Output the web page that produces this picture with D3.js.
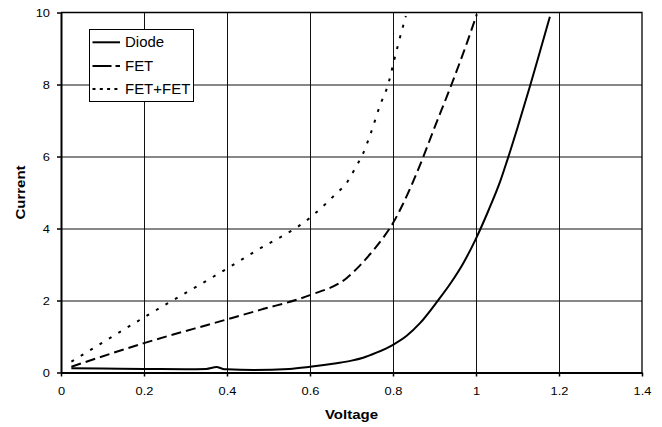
<!DOCTYPE html>
<meta charset="utf-8">
<script src="https://d3js.org/d3.v7.min.js"></script>
<style>
  body { margin: 0; background: #fff; }
  text { font-family: "Liberation Sans", Arial, sans-serif; fill: #000; }
</style>
<div id="chart"></div>
<script>
  // values
  const xTicks = [0, 0.2, 0.4, 0.6, 0.8, 1, 1.2, 1.4];
  const yTicks = [0, 2, 4, 6, 8, 10];

  const diodeV = [0.025, 0.1, 0.2, 0.3, 0.35, 0.375, 0.39, 0.4, 0.464, 0.55, 0.6, 0.664, 0.7, 0.728, 0.76, 0.8, 0.833, 0.865, 0.909, 0.94, 0.969, 1.0, 1.03, 1.058, 1.074, 1.1, 1.13, 1.155, 1.178];
  const diodeI = [0.12, 0.11, 0.1, 0.09, 0.1, 0.15, 0.1, 0.09, 0.07, 0.1, 0.16, 0.26, 0.33, 0.41, 0.55, 0.77, 1.02, 1.37, 2.01, 2.5, 3.03, 3.72, 4.5, 5.3, 5.85, 6.8, 7.95, 8.95, 9.88];

  const fetV = [0.025, 0.198, 0.383, 0.48, 0.6, 0.688, 0.72, 0.753, 0.78, 0.8, 0.821, 0.865, 0.9, 0.941, 0.978, 1.002];
  const fetI = [0.16, 0.81, 1.42, 1.74, 2.15, 2.62, 2.97, 3.4, 3.8, 4.15, 4.61, 5.76, 6.8, 8.0, 9.15, 9.95];

  const fet2V = [0.025, 0.21, 0.399, 0.467, 0.6, 0.664, 0.688, 0.711, 0.725, 0.745, 0.769, 0.789, 0.801, 0.813, 0.831];
  const fet2I = [0.30, 1.60, 2.88, 3.36, 4.30, 4.98, 5.26, 5.72, 6.01, 6.6, 7.43, 8.03, 8.59, 9.14, 9.9];

  const seriesNames = ["Diode", "FET", "FET+FET"];

  const width = 662, height = 427;
  const plotLeft = 61, plotTop = 12.5, plotRight = 642, plotBottom = 372.5;

  const svg = d3.select("#chart").append("svg")
    .attr("width", width)
    .attr("height", height);

  const x = d3.scaleLinear().domain([0, 1.4]).range([plotLeft, plotRight]);
  const y = d3.scaleLinear().domain([0, 10]).range([plotBottom, plotTop]);

  // gridlines
  svg.append("g")
    .attr("transform", `translate(0,${plotBottom})`)
    .call(d3.axisBottom(x).tickValues(xTicks.slice(1, -1)).tickSize(-(plotBottom - plotTop)).tickFormat(""))
    .call(g => g.select(".domain").remove())
    .selectAll("line").attr("stroke", "#111").attr("stroke-width", 1);

  svg.append("g")
    .attr("transform", `translate(${plotLeft},0)`)
    .call(d3.axisLeft(y).tickValues(yTicks.slice(1, -1)).tickSize(-(plotRight - plotLeft)).tickFormat(""))
    .call(g => g.select(".domain").remove())
    .selectAll("line").attr("stroke", "#111").attr("stroke-width", 1);

  // plot frame (top and right)
  svg.append("path")
    .attr("d", `M${plotLeft},${plotTop}H${plotRight}V${plotBottom}`)
    .attr("fill", "none")
    .attr("stroke", "#000")
    .attr("stroke-width", 1.3);

  // axes
  const xAxis = svg.append("g")
    .attr("transform", `translate(0,${plotBottom})`)
    .call(d3.axisBottom(x).tickValues(xTicks).tickSize(4).tickSizeOuter(0).tickFormat(d3.format("")));
  xAxis.select(".domain").attr("stroke-width", 2);
  xAxis.selectAll("line").attr("stroke-width", 1.5);
  xAxis.selectAll("text")
    .attr("y", 0).attr("dy", 0)
    .attr("font-size", 10.7)
    .attr("transform", "translate(0,22.5) scale(1.2,1)");

  const yAxis = svg.append("g")
    .attr("transform", `translate(${plotLeft},0)`)
    .call(d3.axisLeft(y).tickValues(yTicks).tickSize(4).tickSizeOuter(0));
  yAxis.select(".domain").attr("stroke-width", 2);
  yAxis.selectAll("line").attr("stroke-width", 1.5);
  yAxis.selectAll("text")
    .attr("x", 0).attr("dy", "0.36em")
    .attr("font-size", 10.7)
    .attr("transform", "translate(-11,0) scale(1.2,1)");
  svg.selectAll(".tick text").attr("fill", "#000");

  // axis titles
  svg.append("text")
    .attr("transform", `translate(${(plotLeft + plotRight) / 2},419) scale(1.2,1)`)
    .attr("text-anchor", "middle")
    .attr("font-weight", "bold")
    .attr("font-size", 12.5)
    .text("Voltage");

  svg.append("text")
    .attr("transform", `translate(25,${(plotTop + plotBottom) / 2}) rotate(-90) scale(1.2,1)`)
    .attr("text-anchor", "middle")
    .attr("font-weight", "bold")
    .attr("font-size", 12.5)
    .text("Current");

  // curves
  const line = d3.line().curve(d3.curveMonotoneX).x(d => x(d[0])).y(d => y(d[1]));
  const curves = [
    { pts: d3.zip(diodeV, diodeI), dash: null },
    { pts: d3.zip(fetV, fetI), dash: "10,5" },
    { pts: d3.zip(fet2V, fet2I), dash: "3,8" }
  ];

  svg.selectAll(".curve")
    .data(curves)
    .join("path")
    .attr("class", "curve")
    .attr("d", d => line(d.pts))
    .attr("fill", "none")
    .attr("stroke", "#000")
    .attr("stroke-width", 2)
    .attr("stroke-dasharray", d => d.dash);

  // legend
  const legend = svg.append("g");
  legend.append("rect")
    .attr("x", 89.5).attr("y", 29.5)
    .attr("width", 104).attr("height", 72)
    .attr("fill", "#fff")
    .attr("stroke", "#000")
    .attr("stroke-width", 1);

  const legendDash = [null, "19,4,5,100", "3,4.3"];
  const legendY = [42.3, 66, 89];
  seriesNames.forEach((name, i) => {
    legend.append("line")
      .attr("x1", 92.5).attr("x2", 120)
      .attr("y1", legendY[i]).attr("y2", legendY[i])
      .attr("stroke", "#000")
      .attr("stroke-width", 2)
      .attr("stroke-dasharray", legendDash[i]);
    legend.append("text")
      .attr("transform", `translate(125,${legendY[i] + 5}) scale(1.07,1)`)
      .attr("font-size", 14)
      .text(name);
  });
</script>
